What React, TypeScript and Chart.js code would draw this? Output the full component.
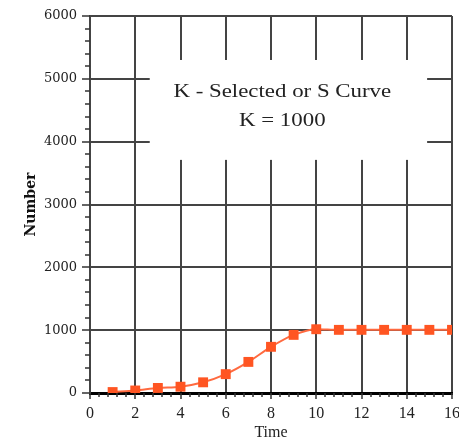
import React, { useEffect, useRef } from "react";
import { Chart, registerables } from "chart.js";

Chart.register(...registerables);

// ---- data ----
const TIME = [1, 2, 3, 4, 5, 6, 7, 8, 9, 10, 11, 12, 13, 14, 15, 16];
const NUMBER = [15, 40, 80, 100, 170, 300, 495, 735, 925, 1015, 1005, 1005, 1005, 1005, 1005, 1005];

// ---- axes ----
const X_MIN = 0;
const X_MAX = 16;
const X_STEP = 2;
const X_MINOR = 0.4;
const Y_MIN = 0;
const Y_MAX = 6000;
const Y_STEP = 1000;
const Y_MINOR = 200;

// ---- annotation ----
const TITLE_LINES = ["K - Selected or S Curve", "K = 1000"];
const TITLE_X = 8.5;
const TITLE_Y = [4711, 4250];
const BOX_X = [2.64, 14.9];
const BOX_Y = [3710, 5300];

const decor = {
  id: "decor",
  beforeDatasetsDraw(chart: any) {
    const { ctx, chartArea } = chart;
    const x = chart.scales.x;
    const y = chart.scales.y;
    ctx.save();
    // white label box covering the grid
    const l = x.getPixelForValue(BOX_X[0]);
    const r = x.getPixelForValue(BOX_X[1]);
    const t = y.getPixelForValue(BOX_Y[1]);
    const b = y.getPixelForValue(BOX_Y[0]);
    ctx.fillStyle = "#ffffff";
    ctx.fillRect(l, t, r - l, b - t);
    // title text
    ctx.fillStyle = "#222222";
    ctx.font = '18px "Liberation Serif"';
    ctx.textAlign = "center";
    ctx.textBaseline = "alphabetic";
    TITLE_LINES.forEach((s, i) => {
      ctx.save();
      ctx.translate(x.getPixelForValue(TITLE_X), y.getPixelForValue(TITLE_Y[i]));
      ctx.scale(1.27, 1);
      ctx.fillText(s, 0, 0);
      ctx.restore();
    });
    // tick marks
    ctx.strokeStyle = "#333333";
    ctx.lineWidth = 1.5;
    ctx.beginPath();
    const left = chartArea.left;
    const bottom = chartArea.bottom;
    const ny = Math.round((Y_MAX - Y_MIN) / Y_MINOR);
    for (let i = 0; i <= ny; i++) {
      const v = Y_MIN + i * Y_MINOR;
      const major = (i * Y_MINOR) % Y_STEP === 0;
      const p = Math.round(y.getPixelForValue(v));
      ctx.moveTo(left - (major ? 8 : 5), p);
      ctx.lineTo(left, p);
    }
    const nx = Math.round((X_MAX - X_MIN) / X_MINOR);
    const per = Math.round(X_STEP / X_MINOR);
    for (let i = 0; i <= nx; i++) {
      const v = X_MIN + i * X_MINOR;
      const major = i % per === 0;
      const p = Math.round(x.getPixelForValue(v));
      ctx.moveTo(p, bottom);
      ctx.lineTo(p, bottom + (major ? 6 : 4));
    }
    ctx.stroke();
    ctx.restore();
  },
};

export default function App() {
  const ref = useRef<HTMLCanvasElement | null>(null);

  useEffect(() => {
    if (!ref.current) return;
    const chart = new Chart(ref.current, {
      type: "line",
      data: {
        datasets: [
          {
            data: TIME.map((t, i) => ({ x: t, y: NUMBER[i] })),
            borderColor: "#ff6a40",
            borderWidth: 2,
            backgroundColor: "#ff5522",
            pointBackgroundColor: "#ff5522",
            pointBorderWidth: 0,
            pointStyle: "rect",
            pointRadius: 7,
            cubicInterpolationMode: "monotone",
            fill: false,
          },
        ],
      },
      options: {
        responsive: false,
        animation: false,
        devicePixelRatio: 1,
        layout: { padding: { top: 16, right: 6, left: 0, bottom: 0 } },
        plugins: { legend: { display: false }, tooltip: { enabled: false } },
        scales: {
          x: {
            type: "linear",
            min: X_MIN,
            max: X_MAX,
            ticks: {
              stepSize: X_STEP,
              font: { family: "Liberation Serif", size: 16 },
              color: "#222222",
              padding: 11,
              maxRotation: 0,
              autoSkip: false,
              callback: (v: any) => String(v),
            },
            grid: { color: "#444444", lineWidth: 2, drawTicks: false },
            border: { color: "#000000", width: 3 },
            title: {
              display: true,
              text: "Time",
              font: { family: "Liberation Serif", size: 16, lineHeight: 1 },
              color: "#222222",
              padding: 0,
            },
            afterFit(s: any) {
              s.height = 48;
              s.paddingLeft = 0;
              s.paddingRight = 0;
            },
          },
          y: {
            type: "linear",
            min: Y_MIN,
            max: Y_MAX,
            ticks: {
              stepSize: Y_STEP,
              font: { family: "DejaVu Serif", size: 13 },
              color: "#222222",
              padding: 13,
              callback: (v: any) => String(v),
            },
            grid: { color: "#444444", lineWidth: 2, drawTicks: false },
            border: { color: "#444444", width: 2 },
            title: {
              display: true,
              text: "Number",
              font: { family: "DejaVu Serif", size: 14, weight: "bold", lineHeight: 1 },
              color: "#111111",
              padding: { top: 24, bottom: 0 },
            },
            afterFit(s: any) {
              s.width = 90;
              s.paddingTop = 0;
              s.paddingBottom = 0;
            },
          },
        },
      },
      plugins: [decor],
    } as any);
    return () => chart.destroy();
  }, []);

  return (
    <div style={{ position: "absolute", left: 0, top: 0, width: 459, height: 441, background: "#fff" }}>
      <canvas ref={ref} width={459} height={441} style={{ display: "block" }} />
    </div>
  );
}
